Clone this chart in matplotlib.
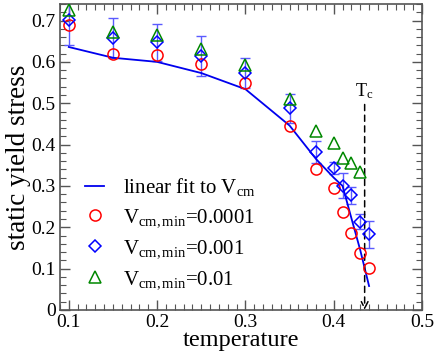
import matplotlib
matplotlib.use("Agg")
import matplotlib.pyplot as plt
from matplotlib.ticker import MultipleLocator

plt.rcParams['font.family'] = ['Liberation Serif', 'DejaVu Serif']
plt.rcParams['mathtext.fontset'] = 'custom'
plt.rcParams['mathtext.rm'] = 'Liberation Serif'
plt.rcParams['mathtext.it'] = 'Liberation Serif:italic'

# fit line
fit_T = [0.10, 0.15, 0.20, 0.25, 0.30, 0.35, 0.38, 0.40, 0.41, 0.42, 0.43, 0.44]
fit_y = [0.636, 0.610, 0.600, 0.573, 0.534, 0.446, 0.365, 0.320, 0.300, 0.222, 0.145, 0.058]

# V_cm,min = 0.0001
T1 = [0.10, 0.15, 0.20, 0.25, 0.30, 0.35, 0.38, 0.40, 0.41, 0.42, 0.43, 0.44]
y1 = [0.690, 0.618, 0.617, 0.595, 0.548, 0.444, 0.340, 0.296, 0.238, 0.185, 0.137, 0.101]

# V_cm,min = 0.001
T2 = [0.10, 0.15, 0.20, 0.25, 0.30, 0.35, 0.38, 0.40, 0.41, 0.42, 0.43, 0.44]
y2 = [0.701, 0.657, 0.647, 0.614, 0.574, 0.488, 0.382, 0.344, 0.301, 0.277, 0.214, 0.183]
e2 = [0.060, 0.048, 0.045, 0.048, 0.036, 0.035, 0.027, 0.015, 0.030, 0.020, 0.018, 0.032]

# V_cm,min = 0.01
T3 = [0.10, 0.15, 0.20, 0.25, 0.30, 0.35, 0.38, 0.40, 0.41, 0.42, 0.43]
y3 = [0.725, 0.672, 0.665, 0.631, 0.593, 0.510, 0.434, 0.405, 0.367, 0.356, 0.333]

Tc = 0.435

fig = plt.figure(figsize=(4.36, 3.54), dpi=100)
ax = fig.add_axes([0.1376, 0.1243, 0.8304, 0.8644])

ax.errorbar(T2, y2, yerr=e2, fmt='none', ecolor='#5a5aff', elinewidth=1.0,
            capsize=3.5, capthick=1.0, zorder=2)
ax.plot(fit_T, fit_y, color='#0000ee', lw=1.3, label=r'linear fit to V$_{\rm cm}$', zorder=3)
ax.plot(T1, y1, linestyle='none', marker='o', ms=8, mfc='none', mec='#ff0000', mew=1.1,
        label=r'V$_{\rm cm,min}$=0.0001', zorder=4)
ax.plot(T2, y2, linestyle='none', marker='D', ms=6, mfc='none', mec='#0000ff', mew=1.1,
        label=r'V$_{\rm cm,min}$=0.001', zorder=4)
ax.plot(T3, y3, linestyle='none', marker='^', ms=8, mfc='none', mec='#008800', mew=1.1,
        label=r'V$_{\rm cm,min}$=0.01', zorder=4)

ax.annotate('', xy=(Tc, 0.0), xytext=(Tc, 0.497),
            arrowprops=dict(arrowstyle='->', color='black', lw=1.1, linestyle=(0, (4, 3)),
                            shrinkA=0, shrinkB=0, mutation_scale=12))
ax.text(Tc, 0.505, r'T$_{\rm c}$', ha='center', va='bottom', fontsize=13)

ax.set_xlim(0.09, 0.5)
ax.set_ylim(0.0, 0.74)
ax.xaxis.set_minor_locator(MultipleLocator(0.01))
ax.yaxis.set_minor_locator(MultipleLocator(0.02))
ax.set_xticks([0.1, 0.2, 0.3, 0.4, 0.5])
ax.set_xticklabels(['0.1', '0.2', '0.3', '0.4', '0.5'])
ax.set_yticks([0, 0.1, 0.2, 0.3, 0.4, 0.5, 0.6, 0.7])
ax.set_yticklabels(['0', '0.1', '0.2', '0.3', '0.4', '0.5', '0.6', '0.7'])
ax.tick_params(which='both', direction='in', top=True, right=True, labelsize=14, color='#555555')
ax.tick_params(which='major', length=7, width=1.0, pad=3)
ax.tick_params(which='minor', length=4, width=0.8)
for s in ax.spines.values():
    s.set_color('#555555')
    s.set_linewidth(1.2)

ax.set_xlabel('temperature', fontsize=17.5, labelpad=-1)
ax.set_ylabel('static yield stress', fontsize=19.5, labelpad=0)

ax.legend(loc='lower left', bbox_to_anchor=(0.03, 0.013), frameon=False, fontsize=15,
          handlelength=0.9, handletextpad=0.9, labelspacing=0.45, borderaxespad=0.3)

fig.savefig('out.png', dpi=100)
